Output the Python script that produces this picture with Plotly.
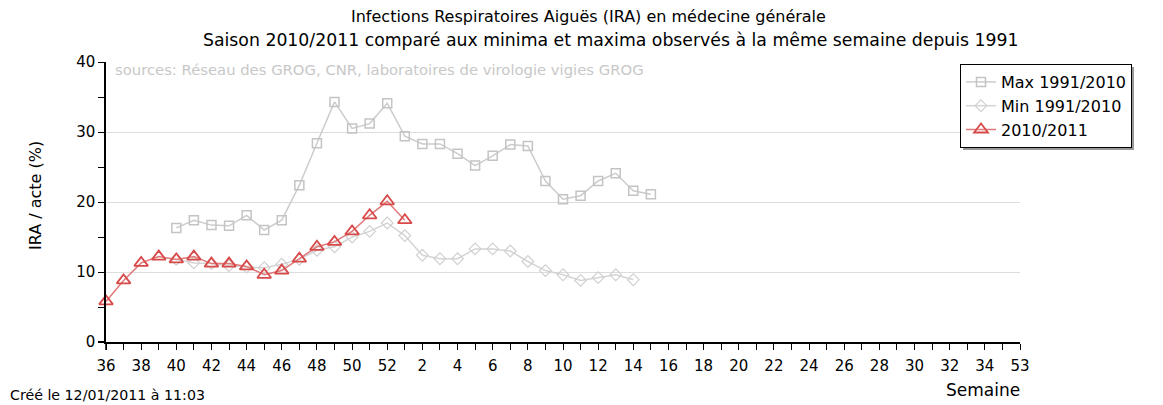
import plotly.graph_objects as go

# Week labels along the axis (index 0..52)
week_labels = [36, 37, 38, 39, 40, 41, 42, 43, 44, 45, 46, 47, 48, 49, 50, 51, 52] + list(range(1, 36))
tick_text = [str(w) for w in week_labels[0:52:2]] + ["53"]
tick_vals = list(range(0, 53, 2))

# Max 1991/2010 (weeks 40 .. 15)
max_weeks = [40, 41, 42, 43, 44, 45, 46, 47, 48, 49, 50, 51, 52, 1, 2, 3, 4, 5, 6, 7, 8, 9, 10, 11, 12, 13, 14, 15]
max_vals = [16.3, 17.4, 16.7, 16.6, 18.1, 16.0, 17.4, 22.4, 28.4, 34.3, 30.5, 31.2, 34.1, 29.4, 28.3, 28.3, 26.9,
            25.2, 26.6, 28.2, 28.0, 23.0, 20.4, 20.9, 23.0, 24.1, 21.6, 21.1]

# Min 1991/2010 (weeks 40 .. 14)
min_weeks = [40, 41, 42, 43, 44, 45, 46, 47, 48, 49, 50, 51, 52, 1, 2, 3, 4, 5, 6, 7, 8, 9, 10, 11, 12, 13, 14]
min_vals = [11.8, 11.3, 11.2, 10.9, 10.7, 10.6, 11.1, 11.8, 13.1, 13.6, 15.0, 15.8, 17.0, 15.2, 12.4, 11.9, 11.9,
            13.3, 13.3, 13.0, 11.5, 10.2, 9.6, 8.8, 9.2, 9.6, 8.9]

# Season 2010/2011 (weeks 36 .. 1)
cur_weeks = [36, 37, 38, 39, 40, 41, 42, 43, 44, 45, 46, 47, 48, 49, 50, 51, 52, 1]
cur_vals = [5.8, 8.8, 11.3, 12.2, 11.8, 12.2, 11.2, 11.2, 10.8, 9.6, 10.2, 11.9, 13.6, 14.3, 15.8, 18.1, 20.1, 17.4]


def pos(w):
    return w - 36 if w >= 36 else w + 16


ML, MR, MT, MB = 106, 143, 62, 63
W, H = 1163, 405
PW, PH = W - ML - MR, H - MT - MB


def px(x):
    return (x - ML) / PW


def py(y):
    return (H - MB - y) / PH


fig = go.Figure()
fig.add_trace(go.Scatter(
    x=[pos(w) for w in max_weeks], y=max_vals, name="Max 1991/2010", mode="lines+markers",
    line=dict(color="#cccccc", width=1.5),
    marker=dict(symbol="square-open", size=9, color="#c4c4c4", line=dict(width=1.5)),
    cliponaxis=False))
fig.add_trace(go.Scatter(
    x=[pos(w) for w in min_weeks], y=min_vals, name="Min 1991/2010", mode="lines+markers",
    line=dict(color="#d4d4d4", width=1.5),
    marker=dict(symbol="diamond-open", size=9, color="#d0d0d0", line=dict(width=1.2)),
    cliponaxis=False))
fig.add_trace(go.Scatter(
    x=[pos(w) for w in cur_weeks], y=cur_vals, name="2010/2011", mode="lines+markers",
    line=dict(color="#e07a7a", width=1.5),
    marker=dict(symbol="triangle-up-open", size=12, color="#d84a4a", line=dict(width=1.8)),
    cliponaxis=False))

font = "DejaVu Sans, Liberation Sans, sans-serif"

fig.update_layout(
    width=W, height=H,
    margin=dict(l=ML, r=MR, t=MT, b=MB, pad=0),
    paper_bgcolor="white", plot_bgcolor="white",
    font=dict(family=font, size=15, color="black"),
    showlegend=True,
    legend=dict(x=px(960), y=py(64), xanchor="left", yanchor="top",
                bgcolor="white", bordercolor="black", borderwidth=1,
                font=dict(size=16, color="black", family=font), tracegroupgap=0, itemwidth=30),
    xaxis=dict(range=[0, 52], tickmode="array", tickvals=tick_vals, ticktext=tick_text,
               showline=True, linecolor="black", linewidth=2, ticks="outside", ticklen=6,
               tickcolor="black", tickwidth=1.2, showgrid=False, zeroline=False,
               tickfont=dict(size=15), ticklabelstandoff=3,
               minor=dict(tickmode="linear", tick0=0, dtick=1, ticks="outside", ticklen=6,
                          tickcolor="black", tickwidth=1.2, showgrid=False)),
    yaxis=dict(range=[0, 40], tickmode="linear", tick0=0, dtick=10,
               showline=True, linecolor="black", linewidth=1.5, ticks="outside", ticklen=6,
               tickcolor="black", tickwidth=1.2, showgrid=True, gridcolor="#dddddd", gridwidth=1.2,
               zeroline=False, tickfont=dict(size=15),
               minor=dict(tickmode="linear", tick0=0, dtick=5, ticks="outside", ticklen=6,
                          tickcolor="black", tickwidth=1.2, showgrid=False)),
)

# legend shadow
fig.add_shape(type="rect", xref="paper", yref="paper",
              x0=px(963), x1=px(1134), y0=py(150), y1=py(67),
              fillcolor="#999999", line=dict(width=0), layer="below")
# axis line overhangs
fig.add_shape(type="line", xref="paper", yref="paper", x0=px(98), x1=px(106), y0=0, y1=0,
              line=dict(color="black", width=2))
fig.add_shape(type="line", xref="paper", yref="paper", x0=0, x1=0, y0=0, y1=py(350),
              line=dict(color="black", width=1.5))

ann = [
    dict(text="Infections Respiratoires Aiguës (IRA) en médecine générale", x=px(588), y=py(17),
         size=16, xanchor="center"),
    dict(text="Saison 2010/2011 comparé aux minima et maxima observés à la même semaine depuis 1991",
         x=px(611), y=py(40), size=17.3, xanchor="center"),
    dict(text="sources: Réseau des GROG, CNR, laboratoires de virologie vigies GROG", x=px(113), y=py(69),
         size=14.8, xanchor="left", color="#c8c8c8"),
    dict(text="Semaine", x=px(1022), y=py(390), size=17, xanchor="right"),
    dict(text="Créé le 12/01/2011 à 11:03", x=px(8), y=py(395), size=14.2, xanchor="left"),
]
for a in ann:
    fig.add_annotation(text=a["text"], x=a["x"], y=a["y"], xref="paper", yref="paper",
                       xanchor=a["xanchor"], yanchor="middle", showarrow=False,
                       font=dict(size=a["size"], color=a.get("color", "black"), family=font))

fig.add_annotation(text="IRA / acte (%)", x=px(35), y=py(196), xref="paper", yref="paper",
                   textangle=-90, showarrow=False, xanchor="center", yanchor="middle",
                   font=dict(size=16, color="black", family=font))

fig.write_html("out.html", config={"displayModeBar": False},
               post_script="document.body.style.margin='0';")
